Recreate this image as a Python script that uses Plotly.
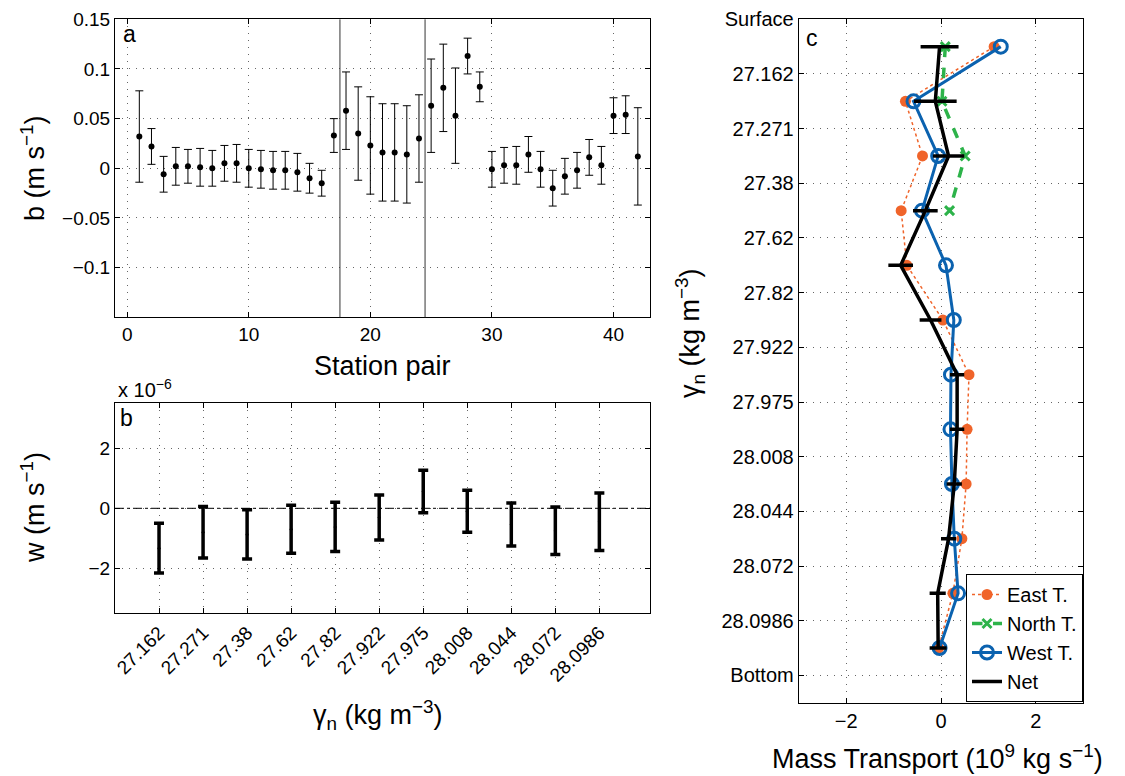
import plotly.graph_objects as go

# ---- panel a: station-pair velocity b ----
station = list(range(1, 43))
b_val = [0.032, 0.022, -0.006, 0.002, 0.002, 0.001, 0.000, 0.005, 0.005, 0.000,
         -0.001, -0.002, -0.002, -0.004, -0.010, -0.015, 0.033, 0.058, 0.035, 0.023,
         0.016, 0.016, 0.014, 0.030, 0.063, 0.081, 0.053, 0.113, 0.082, -0.001,
         0.003, 0.003, 0.014, -0.001, -0.020, -0.008, -0.002, 0.011, 0.003, 0.053,
         0.054, 0.012]
b_err = [0.046, 0.018, 0.018, 0.019, 0.017, 0.019, 0.018, 0.018, 0.019, 0.019,
         0.019, 0.019, 0.019, 0.019, 0.015, 0.013, 0.017, 0.039, 0.047, 0.049,
         0.049, 0.049, 0.049, 0.044, 0.047, 0.044, 0.048, 0.018, 0.015, 0.018,
         0.018, 0.019, 0.018, 0.018, 0.018, 0.018, 0.018, 0.018, 0.019, 0.018,
         0.019, 0.049]
box_breaks = [17.5, 24.5]

# ---- panel b: vertical velocity w (x 1e-6) ----
gamma_labels = ['27.162', '27.271', '27.38', '27.62', '27.82', '27.922',
                '27.975', '28.008', '28.044', '28.072', '28.0986']
gamma_idx = list(range(1, 12))
w_val = [-1.33, -0.80, -0.87, -0.70, -0.62, -0.31, 0.56, -0.10, -0.54, -0.75, -0.45]
w_err = [0.83, 0.86, 0.82, 0.80, 0.82, 0.75, 0.71, 0.70, 0.72, 0.79, 0.96]

# ---- panel c: mass transport per layer ----
layer_ticks = ['Surface'] + gamma_labels + ['Bottom']
layer_pos = [0.5, 1.5, 2.5, 3.5, 4.5, 5.5, 6.5, 7.5, 8.5, 9.5, 10.5, 11.5]
east_t = [1.12, -0.75, -0.39, -0.84, -0.72, 0.04, 0.59, 0.55, 0.53, 0.44, 0.25, -0.05]
north_t = [0.09, 0.02, 0.51, 0.18]
west_t = [1.26, -0.58, -0.06, -0.40, 0.105, 0.27, 0.21, 0.20, 0.23, 0.28, 0.36, -0.03]
net_t = [-0.03, -0.12, 0.16, -0.33, -0.85, -0.22, 0.34, 0.34, 0.28, 0.16, -0.07, -0.06]
net_err = [0.40, 0.45, 0.33, 0.26, 0.26, 0.23, 0.15, 0.15, 0.16, 0.16, 0.17, 0.18]

FONT = 'Liberation Sans, Arial, sans-serif'
ORANGE = '#f0642a'
GREEN = '#2db34a'
BLUE = '#0b62af'

W, H = 1125, 776


def px(x):
    return x / W


def py(y):
    return 1 - y / H


fig = go.Figure()

# panel a
fig.add_trace(go.Scatter(
    x=station, y=b_val, mode='markers', showlegend=False,
    marker=dict(color='black', size=6),
    error_y=dict(type='data', array=b_err, color='black', thickness=1, width=4),
    xaxis='x', yaxis='y'))

# panel b
fig.add_trace(go.Scatter(
    x=gamma_idx, y=w_val, mode='markers', showlegend=False,
    marker=dict(color='black', size=3),
    error_y=dict(type='data', array=w_err, color='black', thickness=3.5, width=5),
    xaxis='x2', yaxis='y2'))

# panel c
fig.add_trace(go.Scatter(
    x=east_t, y=layer_pos, mode='lines+markers', name='East T.',
    line=dict(color=ORANGE, width=1.5, dash='dot'),
    marker=dict(color=ORANGE, size=11),
    xaxis='x3', yaxis='y3'))
fig.add_trace(go.Scatter(
    x=north_t, y=layer_pos[:4], mode='lines+markers', name='North T.',
    line=dict(color=GREEN, width=3.5, dash='dash'),
    marker=dict(color=GREEN, size=9, symbol='x-thin', line=dict(color=GREEN, width=3)),
    xaxis='x3', yaxis='y3'))
fig.add_trace(go.Scatter(
    x=west_t, y=layer_pos, mode='lines+markers', name='West T.',
    line=dict(color=BLUE, width=3),
    marker=dict(color=BLUE, size=13, symbol='circle-open', line=dict(width=3)),
    xaxis='x3', yaxis='y3'))
fig.add_trace(go.Scatter(
    x=net_t, y=layer_pos, mode='lines', name='Net',
    line=dict(color='black', width=3.5),
    error_x=dict(type='data', array=net_err, color='black', thickness=3.5, width=0),
    xaxis='x3', yaxis='y3'))

axis_common = dict(
    showline=True, linecolor='black', linewidth=1, mirror='allticks',
    ticks='inside', ticklen=5, tickcolor='black', automargin=False,
    showgrid=True, gridcolor='#666666', gridwidth=1, griddash='1px,6px',
    zeroline=False, tickfont=dict(family=FONT, size=19, color='black'),
)

fig.update_layout(
    width=W, height=H,
    margin=dict(l=0, r=0, t=0, b=0),
    paper_bgcolor='white', plot_bgcolor='white',
    font=dict(family=FONT, color='black'),
    xaxis=dict(domain=[px(115), px(650)], range=[-1, 43],
               tickvals=[0, 10, 20, 30, 40], anchor='y', **axis_common),
    yaxis=dict(domain=[py(317.3), py(19.3)], range=[-0.15, 0.15],
               tickvals=[-0.1, -0.05, 0, 0.05, 0.1, 0.15],
               ticktext=['\u22120.1', '\u22120.05', '0', '0.05', '0.1', '0.15'],
               anchor='x', **axis_common),
    xaxis2=dict(domain=[px(115), px(650)], range=[0, 12.15],
                tickvals=gamma_idx, ticktext=gamma_labels, tickangle=-45,
                anchor='y2', **{**axis_common, 'tickfont': dict(family=FONT, size=19, color='black')}),
    yaxis2=dict(domain=[py(613.3), py(403.3)], range=[-3.5, 3.5],
                tickvals=[-2, 0, 2], ticktext=['\u22122', '0', '2'],
                anchor='x2', **axis_common),
    xaxis3=dict(domain=[px(798.7), px(1083.3)], range=[-3, 3],
                tickvals=[-2, 0, 2], ticktext=['\u22122', '0', '2'],
                anchor='y3', **{**axis_common, 'tickfont': dict(family=FONT, size=20, color='black')}),
    yaxis3=dict(domain=[py(702.7), py(19.3)], range=[12.5, 0],
                tickvals=list(range(13)), ticktext=layer_ticks,
                anchor='x3', **{**axis_common, 'tickfont': dict(family=FONT, size=20, color='black')}),
    legend=dict(x=px(966), y=py(574), xanchor='left', yanchor='top',
                bgcolor='white', bordercolor='black', borderwidth=1,
                font=dict(family=FONT, size=20, color='black'),
                tracegroupgap=0, itemwidth=30),
)

# box boundaries in panel a
for xb in box_breaks:
    fig.add_shape(type='line', x0=xb, x1=xb, y0=0, y1=1, xref='x', yref='y domain',
                  line=dict(color='#333333', width=1))

# zero line in panel b
fig.add_shape(type='line', x0=0, x1=1, y0=0, y1=0, xref='x2 domain', yref='y2',
              line=dict(color='black', width=1, dash='dashdot'))

ann = [
    dict(text='a', x=px(121), y=py(34), xanchor='left', size=23),
    dict(text='b', x=px(118), y=py(418), xanchor='left', size=23),
    dict(text='c', x=px(804), y=py(38), xanchor='left', size=23),
    dict(text='Station pair', x=px(382), y=py(366), xanchor='center', size=27),
    dict(text='b (m s<sup>\u22121</sup>)', x=px(33), y=py(168), xanchor='center', size=27, angle=-90),
    dict(text='x 10<sup>\u22126</sup>', x=px(116), y=py(388), xanchor='left', size=20),
    dict(text='w (m s<sup>\u22121</sup>)', x=px(33), y=py(508), xanchor='center', size=27, angle=-90),
    dict(text='\u03b3<sub>n</sub> (kg m<sup>\u22123</sup>)', x=px(378), y=py(715), xanchor='center', size=27),
    dict(text='\u03b3<sub>n</sub> (kg m<sup>\u22123</sup>)', x=px(690), y=py(333), xanchor='center', size=27, angle=-90),
    dict(text='Mass Transport (10<sup>9</sup> kg s<sup>\u22121</sup>)', x=px(937), y=py(757), xanchor='center', size=27),
]
for a in ann:
    fig.add_annotation(text=a['text'], x=a['x'], y=a['y'], xref='paper', yref='paper',
                       xanchor=a['xanchor'], yanchor='middle', showarrow=False,
                       textangle=a.get('angle', 0),
                       font=dict(family=FONT, size=a['size'], color='black'))

fig.write_html("out.html", config={'displayModeBar': False},
               post_script="document.body.style.margin = '0';")
